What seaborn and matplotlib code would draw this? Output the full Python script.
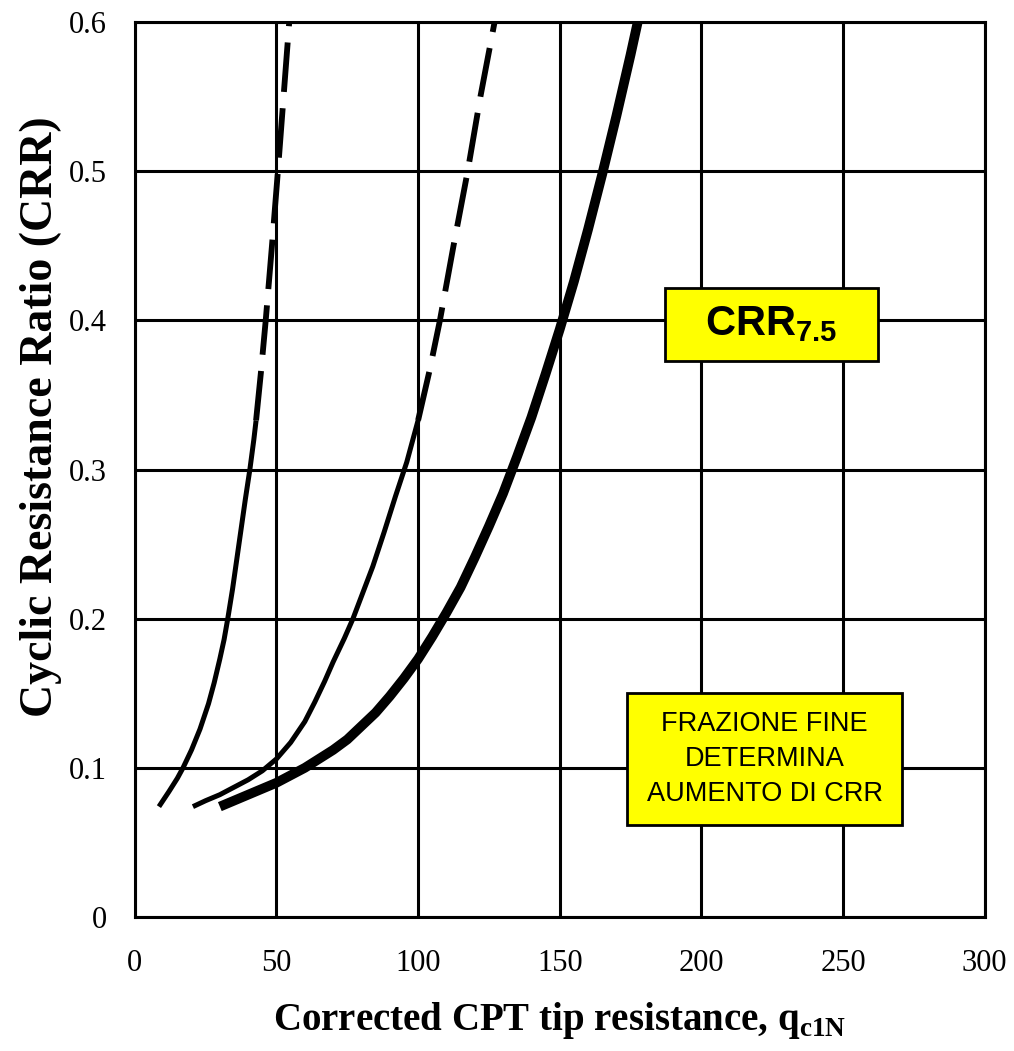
import matplotlib
matplotlib.use("Agg")
import matplotlib.pyplot as plt
import matplotlib.patches as mpatches
import pandas as pd
import seaborn as sns

# CRR curves as (qc1N, CRR) pairs
left_solid_q = [8.5, 12, 15, 17, 20, 23, 26, 28, 30, 31.5, 32.8, 34.5, 36, 37.5, 39, 40.6, 42, 42.8]
left_solid_crr = [0.074, 0.084, 0.093, 0.100, 0.112, 0.126, 0.143, 0.157, 0.173, 0.186,
                  0.200, 0.220, 0.240, 0.260, 0.280, 0.300, 0.320, 0.333]
left_dash_q = [42.8, 44.5, 46.2, 48.4, 50.5, 52.5, 54.5]
left_dash_crr = [0.333, 0.365, 0.400, 0.450, 0.500, 0.550, 0.600]

mid_solid_q = [20.5, 25, 30, 35, 40, 45, 50, 55, 60, 63.5, 67, 70, 74, 77, 80, 84, 88, 92, 96, 100]
mid_solid_crr = [0.074, 0.078, 0.082, 0.087, 0.092, 0.098, 0.106, 0.117, 0.131, 0.144, 0.158,
                 0.171, 0.187, 0.200, 0.215, 0.235, 0.258, 0.282, 0.305, 0.333]
mid_dash_q = [100, 104, 107.7, 112.5, 117.5, 122, 127]
mid_dash_crr = [0.333, 0.366, 0.400, 0.450, 0.500, 0.550, 0.600]

clean_q = [30, 35, 40, 45, 50, 55, 60, 65, 70, 75, 80, 85, 90, 95, 100, 105, 110, 115,
           120, 125, 130, 135, 140, 145, 150, 155, 160, 165, 170, 175, 178]
clean_crr = [0.074, 0.078, 0.082, 0.086, 0.090, 0.095, 0.100, 0.106, 0.112, 0.119, 0.128,
             0.137, 0.148, 0.160, 0.173, 0.188, 0.204, 0.221, 0.241, 0.262, 0.284, 0.309,
             0.335, 0.364, 0.394, 0.426, 0.461, 0.498, 0.537, 0.578, 0.604]

x_ticks = [0, 50, 100, 150, 200, 250, 300]
y_ticks = [0, 0.1, 0.2, 0.3, 0.4, 0.5, 0.6]
y_tick_labels = ["0", "0.1", "0.2", "0.3", "0.4", "0.5", "0.6"]

sns.set_style("white")
plt.rcParams["font.family"] = ["Liberation Serif", "DejaVu Serif"]
plt.rcParams["text.color"] = "black"
plt.rcParams["axes.labelcolor"] = "black"
plt.rcParams["mathtext.fontset"] = "custom"
plt.rcParams["mathtext.rm"] = "Liberation Serif"
plt.rcParams["mathtext.bf"] = "Liberation Serif:bold"
plt.rcParams["mathtext.sf"] = "Liberation Sans:bold"

fig = plt.figure(figsize=(10.14, 10.51), dpi=100)
ax = fig.add_axes([0.133, 0.1275, 0.838, 0.8515])

def seg(q, crr):
    return pd.DataFrame({"q": q, "crr": crr})

line_kw = dict(x="q", y="crr", ax=ax, color="black", sort=False, estimator=None,
               legend=False, solid_capstyle="butt", solid_joinstyle="round", zorder=4)
dash = (0, (8.5, 2.8))
sns.lineplot(data=seg(left_solid_q, left_solid_crr), lw=3.6, **line_kw)
sns.lineplot(data=seg(left_dash_q, left_dash_crr), lw=4.2, linestyle=dash, **line_kw)
sns.lineplot(data=seg(mid_solid_q, mid_solid_crr), lw=3.6, **line_kw)
sns.lineplot(data=seg(mid_dash_q, mid_dash_crr), lw=4.2, linestyle=dash, **line_kw)
sns.lineplot(data=seg(clean_q, clean_crr), lw=7.0, **line_kw)

ax.set_xlim(0, 300)
ax.set_ylim(0, 0.6)
ax.set_xticks(x_ticks)
ax.set_yticks(y_ticks)
ax.set_yticklabels(y_tick_labels)
ax.grid(True, color="black", lw=2.2, zorder=1)
ax.set_axisbelow(True)
for s in ax.spines.values():
    s.set_visible(True)
    s.set_color("black")
    s.set_linewidth(2.2)
ax.tick_params(axis="both", which="major", direction="out", length=8, width=2.2,
               color="black", labelsize=22, labelcolor="black")
ax.tick_params(axis="x", pad=15)
ax.tick_params(axis="y", pad=12)

ax.set_xlabel(r"Corrected CPT tip resistance, q$_{\mathbf{c1N}}$",
              fontsize=28, fontweight="bold", labelpad=16)
ax.set_ylabel("Cyclic Resistance Ratio (CRR)", fontsize=33, fontweight="bold")
ax.yaxis.set_label_coords(-0.086, 0.559)

# Annotation boxes
box1 = mpatches.Rectangle((187, 0.373), 75.3, 0.049, facecolor="#ffff00",
                          edgecolor="black", lw=2, zorder=5)
ax.add_patch(box1)
ax.text(224.5, 0.3975, r"CRR$_{\mathsf{7.5}}$", ha="center", va="center",
        fontsize=30, fontweight="bold", family=["Liberation Sans", "DejaVu Sans"],
        zorder=6)

box2 = mpatches.Rectangle((173.7, 0.0617), 97.3, 0.0883, facecolor="#ffff00",
                          edgecolor="black", lw=2, zorder=5)
ax.add_patch(box2)
ax.text(222.3, 0.106, "FRAZIONE FINE\nDETERMINA\nAUMENTO DI CRR", ha="center",
        va="center", fontsize=19.5, linespacing=1.45,
        family=["Liberation Sans", "DejaVu Sans"], zorder=6)

fig.savefig("out.png", dpi=100)
